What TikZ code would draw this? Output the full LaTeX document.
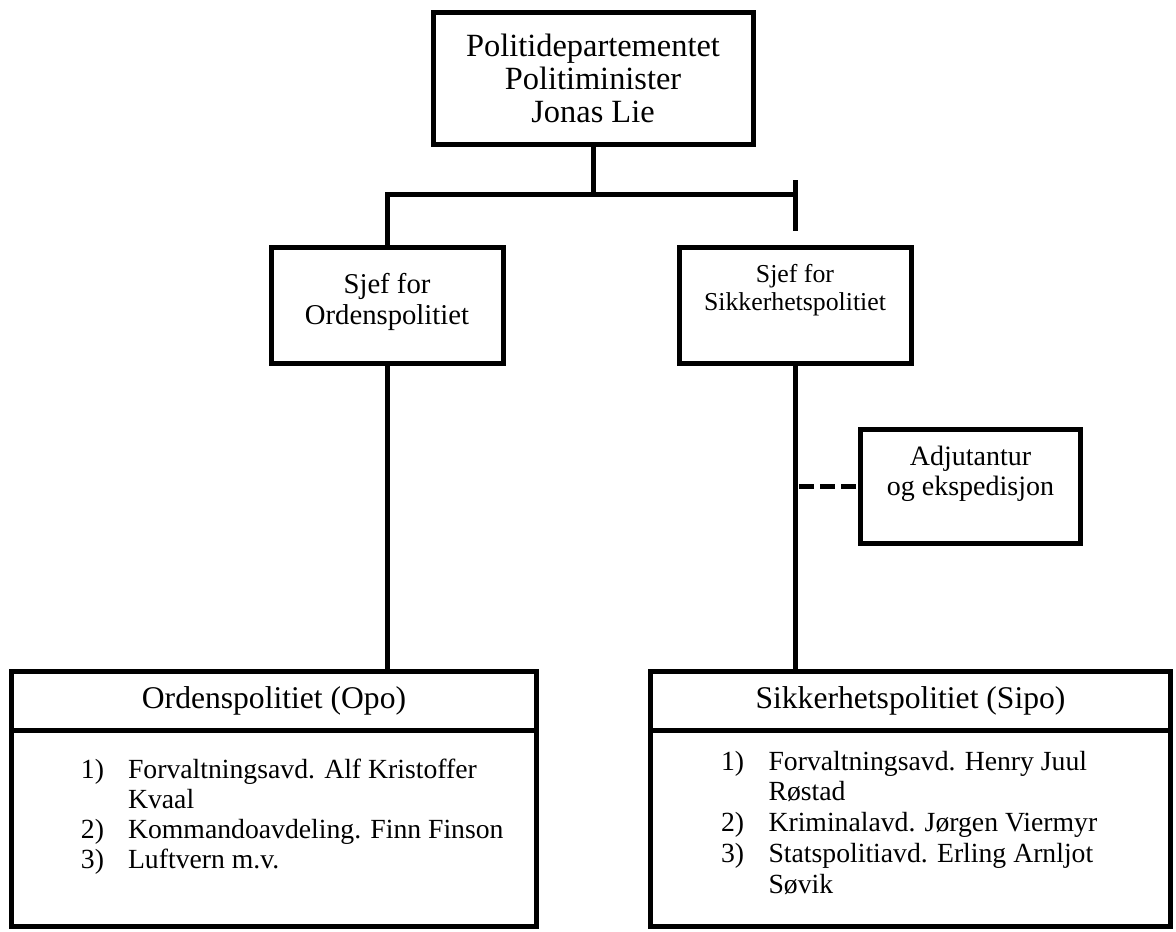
\documentclass[tikz,border=0pt]{standalone}
\usepackage{fontspec}
\setmainfont{Liberation Serif}
\usetikzlibrary{positioning}

\newcommand{\fs}[2]{\fontsize{#1}{#2}\selectfont}

\tikzset{
  orgbox/.style={draw,line width=5pt,inner sep=0pt,outer sep=0pt},
  conn/.style={line width=5pt},
  dashconn/.style={line width=5pt,dash pattern=on 15pt off 6pt}
}

\begin{document}
\begin{tikzpicture}[x=1pt,y=-1pt]
\useasboundingbox (0,0) rectangle (1176,932);

\node[orgbox,align=center,minimum width=320pt,minimum height=132pt,font=\fs{32.4}{33}] (dept) at (593,78.5) {
Politidepartementet\\Politiminister\\Jonas Lie
};
\node[orgbox,below=103pt of dept,xshift=-206pt,font=\fs{28.7}{31}] (chefOpo) {
\parbox[c][116pt][t]{232pt}{\centering\rule{0pt}{45.5pt}Sjef for\\Ordenspolitiet}
};
\node[orgbox,right=176pt of chefOpo,font=\fs{25.8}{28}] (chefSipo) {
\parbox[c][116pt][t]{232pt}{\centering\rule{0pt}{35pt}Sjef for\\Sikkerhetspolitiet}
};
\node[orgbox,font=\fs{28}{30}] (adj) at (970.5,486.5) {
\parbox[c][114pt][t]{220pt}{\centering\rule{0pt}{35.5pt}Adjutantur\\og ekspedisjon}
};

\node[orgbox,minimum width=525pt,minimum height=58.5pt,font=\fs{31.6}{33}] (opoHead) at (274,700.75) {Ordenspolitiet (Opo)};
\node[orgbox,below=0pt of opoHead,font=\fs{27.7}{30.2}] (opoBody) {
\parbox[c][196.5pt][t]{525pt}{\rule{0pt}{48pt}\hspace*{69.5pt}\begin{tabular}[t]{@{}l@{\hspace{24pt}}l@{}}
1) & Forvaltningsavd. Alf Kristoffer\\
   & Kvaal\\
2) & Kommandoavdeling. Finn Finson\\
3) & Luftvern m.v.
\end{tabular}}
};
\node[orgbox,minimum width=520pt,minimum height=58.5pt,font=\fs{31.6}{33}] (sipoHead) at (910.5,700.75) {Sikkerhetspolitiet (Sipo)};
\node[orgbox,below=0pt of sipoHead,font=\fs{27.7}{30.8}] (sipoBody) {
\parbox[c][196.5pt][t]{520pt}{\rule{0pt}{40pt}\hspace*{70.5pt}\begin{tabular}[t]{@{}l@{\hspace{24.5pt}}l@{}}
1) & Forvaltningsavd. Henry Juul\\
   & Røstad\\
2) & Kriminalavd. Jørgen Viermyr\\
3) & Statspolitiavd. Erling Arnljot\\
   & Søvik
\end{tabular}}
};

\path (dept.south) ++(0,49.5) coordinate (hub);
\path (chefSipo.south |- adj.west) ++(4pt,0) coordinate (dashstart);
\draw[conn] (dept.south) -- (hub);
\draw[conn] (chefOpo.north) |- (chefSipo.north |- hub) coordinate (barend);
\draw[conn] ([yshift=14pt]barend) -- ([yshift=-37pt]barend);
\draw[conn] (chefOpo.south) -- (chefOpo.south |- opoHead.north);
\draw[conn] (chefSipo.south) -- (chefSipo.south |- sipoHead.north);
\draw[dashconn] (dashstart) -- (adj.west);
\end{tikzpicture}
\end{document}
